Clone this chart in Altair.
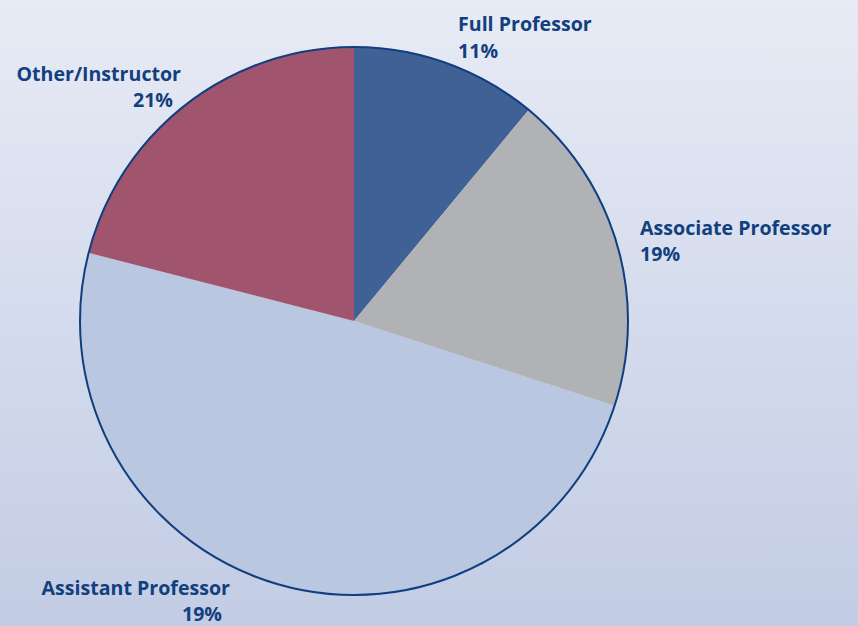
import altair as alt
import pandas as pd

categories = ["Full Professor", "Associate Professor", "Assistant Professor", "Other/Instructor"]
shares = [11, 19, 49, 21]
pct_labels = ["11%", "19%", "19%", "21%"]
colors = ["#3f6196", "#b1b2b5", "#b9c7e1", "#a1546e"]

df = pd.DataFrame({"cat": categories, "share": shares, "pct": pct_labels,
                   "order": list(range(len(categories)))})

W, H = 858, 626
CX, CY, R = 354, 321, 274
TXT = "#123f7e"
FONT = "Open Sans"
FS = 19.6

bg = alt.Chart(pd.DataFrame({"a": [0]})).mark_rect(
    color=alt.Gradient(gradient="linear", x1=0, x2=0, y1=0, y2=1,
                       stops=[alt.GradientStop(offset=0, color="#e7ebf5"),
                              alt.GradientStop(offset=1, color="#c2cce4")])
).encode(x=alt.value(0), x2=alt.value(W), y=alt.value(0), y2=alt.value(H))

pie = alt.Chart(df).mark_arc(radius=R, stroke=None).encode(
    theta=alt.Theta("share:Q", stack=True),
    order=alt.Order("order:Q"),
    color=alt.Color("cat:N", scale=alt.Scale(domain=categories, range=colors), legend=None),
    x=alt.value(CX), y=alt.value(CY),
)

outline = alt.Chart(df).transform_aggregate(total="sum(share)").mark_arc(
    radius=R, filled=False, stroke="#0f3f7f", strokeWidth=2
).encode(theta=alt.Theta("total:Q"), x=alt.value(CX), y=alt.value(CY))

# label placement (annotation layout)
layout = {
    "Full Professor":      dict(align="left",  x1=458, y1=31,  x2=458, y2=58),
    "Associate Professor": dict(align="left",  x1=640, y1=235, x2=640, y2=261),
    "Other/Instructor":    dict(align="right", x1=181, y1=81,  x2=173, y2=107),
    "Assistant Professor": dict(align="right", x1=230, y1=595, x2=222, y2=621),
}

layers = [bg, pie, outline]
for cat, L in layout.items():
    base = alt.Chart(df).transform_filter(alt.datum.cat == cat)
    layers.append(base.mark_text(align=L["align"], baseline="alphabetic", font=FONT,
                                 fontWeight="bold", fontSize=FS, color=TXT).encode(
        text="cat:N", x=alt.value(L["x1"]), y=alt.value(L["y1"])))
    layers.append(base.mark_text(align=L["align"], baseline="alphabetic", font=FONT,
                                 fontWeight="bold", fontSize=FS, color=TXT).encode(
        text="pct:N", x=alt.value(L["x2"]), y=alt.value(L["y2"])))

chart = alt.layer(*layers).properties(
    width=W, height=H, padding=0,
    autosize=alt.AutoSizeParams(type="fit", contains="padding"),
).configure_view(stroke=None)

chart.save("out.html", embed_options={"renderer": "svg", "actions": False})
